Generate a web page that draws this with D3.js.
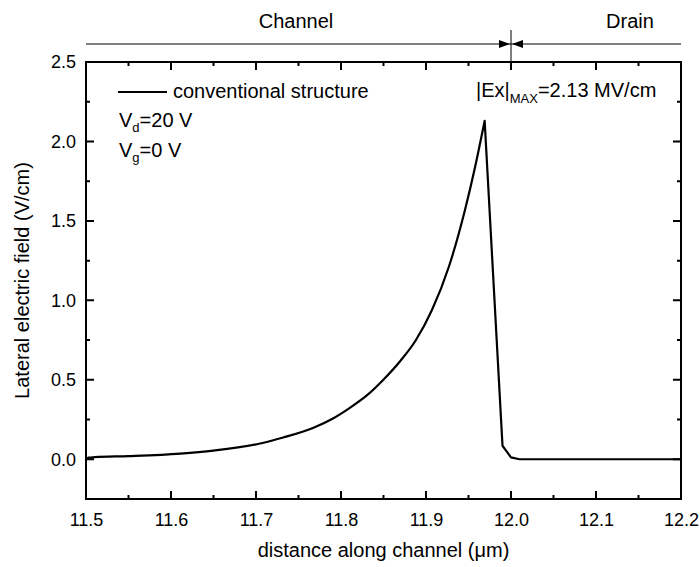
<!DOCTYPE html>
<html>
<head>
<meta charset="utf-8">
<script src="https://cdn.jsdelivr.net/npm/d3@7"></script>
<style>
  html, body { margin: 0; padding: 0; background: #fff; }
  svg { display: block; font-family: "Liberation Sans", Arial, sans-serif; }
</style>
</head>
<body>
<svg id="chart" width="700" height="567"></svg>
<script>
// Lateral electric field along the channel (conventional structure)
const distance = [11.500, 11.503, 11.510, 11.550, 11.611, 11.650, 11.709, 11.732, 11.767, 11.790,
                  11.810, 11.830, 11.849, 11.870, 11.888, 11.907, 11.927, 11.946, 11.958, 11.969,
                  11.990, 12.000, 12.010, 12.200];
const field    = [0.000, 0.010, 0.013, 0.020, 0.036, 0.055, 0.104, 0.137, 0.197, 0.255,
                  0.322, 0.400, 0.496, 0.620, 0.749, 0.939, 1.213, 1.572, 1.846, 2.130,
                  0.085, 0.012, 0.000, 0.000];

const xTicks = [11.5, 11.6, 11.7, 11.8, 11.9, 12.0, 12.1, 12.2];
const xMinor = [11.55, 11.65, 11.75, 11.85, 11.95, 12.05, 12.15];
const yTicks = [0.0, 0.5, 1.0, 1.5, 2.0, 2.5];
const yMinor = [-0.25, 0.25, 0.75, 1.25, 1.75, 2.25];
const regions = ["Channel", "Drain"];
const junction = 12.0;
const peakField = 2.13;

const W = 700, H = 567;
const margin = { left: 86, right: 19, top: 62, bottom: 68 };
const pL = margin.left, pR = W - margin.right, pT = margin.top, pB = H - margin.bottom;
const FS = 20, FS_TICK = 18, FS_SUB = 13;

const svg = d3.select("#chart");
const x = d3.scaleLinear().domain([11.5, 12.2]).range([pL, pR]);
const y = d3.scaleLinear().domain([-0.25, 2.5]).range([pB, pT]);

// tick labels through the axis generators
const labelStyle = g => {
  g.select(".domain").remove();
  g.selectAll(".tick line").remove();
  g.selectAll(".tick text").attr("font-size", FS_TICK).attr("fill", "#000")
    .attr("font-family", "'Liberation Sans', Arial, sans-serif");
};
svg.append("g").attr("transform", `translate(0,${pB})`)
  .call(d3.axisBottom(x).tickValues(xTicks).tickFormat(d3.format(".1f")).tickSize(0).tickPadding(14))
  .call(labelStyle);
svg.append("g").attr("transform", `translate(${pL},0)`)
  .call(d3.axisLeft(y).tickValues(yTicks).tickFormat(d3.format(".1f")).tickSize(0).tickPadding(10))
  .call(labelStyle);

// frame
svg.append("rect")
  .attr("x", pL).attr("y", pT)
  .attr("width", pR - pL).attr("height", pB - pT)
  .attr("fill", "none").attr("stroke", "#000").attr("stroke-width", 2);

// inward tick marks on all four sides, as one path
const majorLen = 8, minorLen = 4;
const tp = d3.path();
const xTick = (v, len) => {
  const px = x(v);
  tp.moveTo(px, pB); tp.lineTo(px, pB - len);
  tp.moveTo(px, pT); tp.lineTo(px, pT + len);
};
const yTick = (v, len) => {
  const py = y(v);
  tp.moveTo(pL, py); tp.lineTo(pL + len, py);
  tp.moveTo(pR, py); tp.lineTo(pR - len, py);
};
xTicks.forEach(v => xTick(v, majorLen));
xMinor.forEach(v => xTick(v, minorLen));
yTicks.forEach(v => yTick(v, majorLen));
yMinor.forEach(v => yTick(v, minorLen));
svg.append("path")
  .attr("d", tp.toString())
  .attr("fill", "none").attr("stroke", "#000").attr("stroke-width", 2);

// field curve: smooth rise up to the peak, straight segments after it
const pts = distance.map((d, i) => [d, field[i]]);
const iPeak = d3.maxIndex(field);
const rise = d3.line().x(d => x(d[0])).y(d => y(d[1])).curve(d3.curveMonotoneX);
const fall = d3.line().x(d => x(d[0])).y(d => y(d[1]));
svg.append("path")
  .attr("fill", "none").attr("stroke", "#000").attr("stroke-width", 2.2)
  .attr("stroke-linejoin", "round")
  .attr("d", rise(pts.slice(0, iPeak + 1)) + fall(pts.slice(iPeak)).replace(/^M/, "L"));

// axis titles
svg.append("text")
  .attr("x", (pL + pR) / 2).attr("y", 557)
  .attr("text-anchor", "middle").attr("font-size", FS)
  .text("distance along channel (\u03bcm)");

svg.append("text")
  .attr("transform", `translate(29,${(pT + pB) / 2}) rotate(-90)`)
  .attr("text-anchor", "middle").attr("font-size", FS)
  .text("Lateral electric field (V/cm)");

// region bar above the frame
const xj = x(junction);
const barY = 44;
svg.append("line").attr("x1", pL).attr("x2", pR)
  .attr("y1", barY).attr("y2", barY).attr("stroke", "#000").attr("stroke-width", 1);
svg.append("line").attr("x1", xj).attr("x2", xj)
  .attr("y1", 30).attr("y2", pT).attr("stroke", "#000").attr("stroke-width", 1);
svg.append("path")
  .attr("d", `M${xj - 1},${barY} L${xj - 12},${barY - 4} L${xj - 12},${barY + 4} Z
              M${xj + 1},${barY} L${xj + 12},${barY - 4} L${xj + 12},${barY + 4} Z`)
  .attr("fill", "#000");

svg.append("text").attr("x", 296).attr("y", 28)
  .attr("text-anchor", "middle").attr("font-size", FS).text(regions[0]);
svg.append("text").attr("x", 630).attr("y", 28)
  .attr("text-anchor", "middle").attr("font-size", FS).text(regions[1]);

// legend
svg.append("line").attr("x1", 118).attr("x2", 167).attr("y1", 92).attr("y2", 92)
  .attr("stroke", "#000").attr("stroke-width", 2.2);
svg.append("text").attr("x", 173).attr("y", 98).attr("font-size", FS)
  .text("conventional structure");

const vd = svg.append("text").attr("x", 119).attr("y", 127).attr("font-size", FS);
vd.append("tspan").text("V");
vd.append("tspan").attr("font-size", FS_SUB).attr("dy", 5).text("d");
vd.append("tspan").attr("dy", -5).text("=20 V");

const vg = svg.append("text").attr("x", 119).attr("y", 157).attr("font-size", FS);
vg.append("tspan").text("V");
vg.append("tspan").attr("font-size", FS_SUB).attr("dy", 5).text("g");
vg.append("tspan").attr("dy", -5).text("=0 V");

// peak annotation
const ann = svg.append("text").attr("x", 476).attr("y", 97).attr("font-size", FS);
ann.append("tspan").text("|Ex|");
ann.append("tspan").attr("font-size", FS_SUB).attr("dy", 6).text("MAX");
ann.append("tspan").attr("dy", -6).text("=" + peakField.toFixed(2) + " MV/cm");
</script>
</body>
</html>
